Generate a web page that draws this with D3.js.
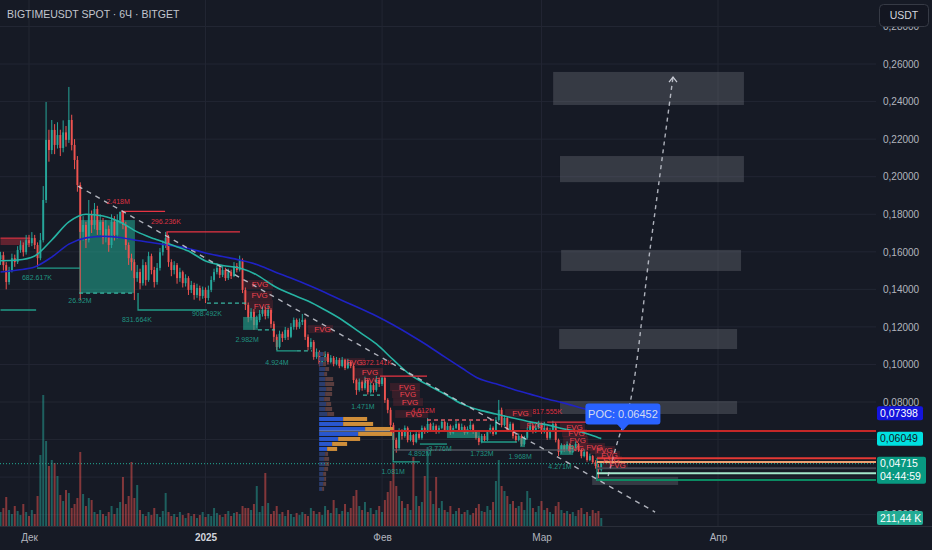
<!DOCTYPE html>
<html>
<head>
<meta charset="utf-8">
<script src="https://cdn.jsdelivr.net/npm/d3@7"></script>
<style>
html,body{margin:0;padding:0;background:#161a25;overflow:hidden}
svg{display:block;font-family:"Liberation Sans",Arial,sans-serif}
</style>
</head>
<body>
<svg id="chart" width="932" height="550"></svg>
<script>
// ---------- series ----------
const symbolTitle = "BIGTIMEUSDT SPOT · 6Ч · BITGET";
const firstBarUTC = [2024, 10, 26];      // first candle open (year, month0, day)
const barHours = 12;
const priceUnit = 1e-4;                   // OHLC values below are in 0.0001 USDT

const opens = [
1560,1582,1529,1439,1503,1566,1545,1610,1636,1598,
1662,1646,1673,1636,1566,1662,1876,2196,2142,2249,
2169,2222,2153,2236,2196,2302,2169,2089,1956,1706,
1743,1663,1796,1743,1828,1716,1759,1673,1722,1636,
1759,1690,1769,1812,1743,1636,1566,1545,1460,1492,
1433,1529,1450,1577,1503,1439,1514,1598,1636,1673,
1545,1503,1529,1460,1492,1433,1460,1397,1423,1370,
1407,1365,1397,1354,1397,1450,1492,1514,1477,1503,
1460,1492,1471,1524,1503,1556,1397,1317,1248,1280,
1210,1237,1269,1290,1258,1290,1216,1147,1093,1163,
1141,1184,1147,1200,1237,1200,1226,1237,1147,1093,
1120,1040,1067,1003,1024,1056,1013,1035,1003,1024,
992,1024,981,1013,992,917,864,906,874,917,
853,890,864,917,896,928,811,758,677,598,
555,640,619,662,598,624,587,630,609,662,
640,683,651,672,640,662,694,651,672,635,
662,683,651,667,635,656,678,640,609,587,
619,598,640,662,630,704,758,677,715,651,
683,619,598,619,576,609,651,672,640,662,
683,640,662,609,651,683,598,534,566,544,
576,534,555,576,544,512,534,491,512,480,
459,438];

const highs = [
1600,1600,1545,1520,1590,1585,1630,1660,1650,1690,
1690,1705,1690,1650,1700,1950,2398,2250,2302,2280,
2290,2250,2300,2270,2478,2330,2200,2110,1970,1790,
1760,1876,1820,1860,1845,1800,1780,1770,1740,1800,
1790,1800,1815,1812,1760,1650,1590,1560,1530,1510,
1560,1545,1600,1590,1520,1540,1620,1660,1706,1690,
1560,1550,1540,1515,1500,1480,1470,1445,1435,1430,
1420,1415,1410,1420,1470,1510,1540,1525,1525,1515,
1510,1505,1545,1540,1580,1565,1410,1330,1300,1295,
1260,1290,1310,1305,1315,1300,1230,1160,1180,1175,
1200,1195,1220,1250,1245,1245,1269,1245,1160,1140,
1130,1085,1075,1040,1070,1065,1050,1045,1040,1035,
1040,1030,1030,1020,1000,925,925,915,935,925,
905,900,938,930,935,935,820,770,690,610,
660,655,675,670,640,630,645,640,675,670,
715,690,690,680,675,705,700,690,680,675,
700,690,685,675,670,700,685,650,620,630,
630,650,680,670,720,811,770,730,722,695,
690,630,632,628,620,665,690,680,675,700,
690,694,670,662,700,690,605,580,575,590,
582,570,590,582,552,548,540,525,518,490,
470,480];

const lows = [
1530,1500,1400,1425,1490,1520,1535,1595,1575,1585,
1625,1630,1615,1520,1555,1650,1860,2080,2120,2120,
2150,2110,2130,2160,2180,2140,2040,1920,1343,1660,
1620,1650,1700,1720,1690,1690,1640,1650,1600,1620,
1660,1670,1750,1720,1610,1530,1500,1343,1440,1400,
1420,1420,1440,1480,1410,1425,1500,1580,1620,1520,
1470,1480,1430,1440,1410,1415,1370,1380,1345,1355,
1340,1350,1327,1340,1385,1440,1480,1460,1465,1445,
1450,1455,1465,1490,1495,1380,1290,1225,1235,1184,
1195,1225,1255,1240,1245,1195,1120,1077,1085,1120,
1130,1130,1140,1185,1185,1190,1210,1130,1075,1080,
1025,1030,990,995,1010,1000,1005,990,995,980,
985,970,975,980,900,838,855,860,865,840,
845,850,855,880,885,795,740,660,491,530,
545,600,610,585,590,570,580,600,600,630,
635,640,645,630,632,655,640,645,625,628,
655,640,645,625,628,650,630,600,570,580,
590,592,632,620,625,695,665,670,640,645,
605,585,590,565,570,600,645,632,635,655,
630,632,598,600,645,585,512,525,535,538,
525,528,548,535,500,505,482,485,470,445,
395,430];

const closes = [
1582,1529,1439,1503,1566,1545,1610,1636,1598,1662,
1646,1673,1636,1566,1662,1876,2196,2142,2249,2169,
2222,2153,2236,2196,2302,2169,2089,1956,1706,1743,
1663,1796,1743,1828,1716,1759,1673,1722,1636,1759,
1690,1769,1812,1743,1636,1566,1545,1460,1492,1433,
1529,1450,1577,1503,1439,1514,1598,1636,1673,1545,
1503,1529,1460,1492,1433,1460,1397,1423,1370,1407,
1365,1397,1354,1397,1450,1492,1514,1477,1503,1460,
1492,1471,1524,1503,1556,1397,1317,1248,1280,1210,
1237,1269,1290,1258,1290,1216,1147,1093,1163,1141,
1184,1147,1200,1237,1200,1226,1237,1147,1093,1120,
1040,1067,1003,1024,1056,1013,1035,1003,1024,992,
1024,981,1013,992,917,864,906,874,917,853,
890,864,917,896,928,811,758,677,598,555,
640,619,662,598,624,587,630,609,662,640,
683,651,672,640,662,694,651,672,635,662,
683,651,667,635,656,678,640,609,587,619,
598,640,662,630,704,758,677,715,651,683,
619,598,619,576,609,651,672,640,662,683,
640,662,609,651,683,598,534,566,544,576,
534,555,576,544,512,534,491,512,480,459,
438,471.5];

// volume per bar, thousands of BIGTIME
const volumesK = [
370,475,766,422,317,528,396,290,581,370,
264,422,317,792,1874,3458,2244,1584,1742,1663,
1320,818,660,950,871,475,581,739,1954,845,
528,739,686,370,317,422,317,264,370,528,
317,475,634,1294,581,792,1690,739,1082,422,
317,264,370,290,475,317,238,396,871,370,
264,317,238,370,290,211,343,264,317,211,
290,370,238,317,264,475,343,290,238,317,
396,264,343,370,317,528,475,475,422,581,
1056,370,528,1399,607,317,396,528,317,370,
264,422,317,238,343,290,370,317,264,475,
396,317,370,290,528,422,343,686,475,317,
396,581,370,475,792,950,528,422,634,370,
475,317,422,528,370,686,898,1188,1663,1056,
792,660,475,581,422,1822,792,528,634,1320,
2086,924,581,1294,475,660,422,370,528,317,
396,475,317,370,422,290,343,475,581,396,
370,528,422,634,1188,1742,1056,924,792,581,
660,475,528,634,422,924,739,475,370,528,
660,422,475,370,317,528,634,422,343,396,
317,370,264,422,475,317,370,264,422,343,
396,211.44];

// moving averages: [bar index, value in 0.0001]
const emaFast = [[0,1552],[6,1556],[12,1578],[18,1663],[24,1759],[30,1800],[36,1791],[42,1759],[48,1706],[54,1669],
[60,1637],[66,1604],[72,1551],[78,1527],[84,1514],[90,1477],[96,1418],[102,1375],[108,1338],[114,1290],
[120,1237],[126,1173],[132,1109],[138,1024],[144,944],[150,891],[156,843],[162,790],[168,758],[174,736],
[180,715],[186,694],[192,678],[198,656],[204,640],[210,610],[211,604.9]];
const emaSlow = [[0,1492],[6,1503],[12,1519],[18,1572],[24,1641],[30,1674],[36,1682],[42,1676],[48,1660],[54,1647],
[60,1633],[66,1618],[72,1594],[78,1575],[84,1556],[90,1532],[96,1495],[102,1460],[108,1423],[114,1383],
[120,1341],[126,1301],[132,1258],[138,1210],[144,1157],[150,1101],[156,1040],[162,981],[168,925],[174,897],
[180,868],[186,842],[192,816],[198,794],[204,768],[210,743],[211,739.8]];

// axes
const priceTicks = [0.02,0.04,0.06,0.08,0.10,0.12,0.14,0.16,0.18,0.20,0.22,0.24,0.26,0.28];
const monthTicks = [[2024,11,1],[2025,0,1],[2025,1,1],[2025,2,1],[2025,3,1]];
const monthNames = ["Янв","Фев","Мар","Апр","Май","Июн","Июл","Авг","Сен","Окт","Ноя","Дек"];
const countdown = "04:44:59";

// volume profile (rows from top, millions)
const profileTop = 0.1066, profileStep = 0.00266, profileStartBar = 111.9;
const profileUp   = [1,1.25,1,1.5,1.25,1.5,1.5,1.75,1.5,1.25,1.75,1.5,2,6,6,11.5,9.75,4.75,3.25,2,1.5,1.25,1.5,1.25,1,1.25,1,0.75];
const profileDown = [0.5,0.75,0.75,1,0.75,2,2.25,1.5,1.75,1.5,1.25,1.75,1.75,6,7.5,7,8.5,5.5,3.75,2.5,0.75,1.25,1,1,0.75,0.5,0.75,0.5];
const valueAreaRows = [13, 19];
const pocPrice = 0.06452, pocFromBar = 136.8, pocLabelBar = 218.6;

// drawings in (bar, price)
const trendLine = [[27.2,0.1950],[229.9,0.0214]];
const projection = [[213.4,0.0406],[216.9,0.0598],[221.1,0.0795],[228.1,0.1610],[236.2,0.2531]];
const targetZones = [
  [194.1,261.1,0.2558,0.2382],
  [196.5,261.1,0.2110,0.1971],
  [196.9,260.1,0.1610,0.1498],
  [196.2,258.7,0.1189,0.1082],
  [196.5,258.7,0.0805,0.0736],
  [207.8,238.0,0.0401,0.0358]
];
const fvgZones = [
  [85.2,95.7,0.1450,0.1402],[85.2,95.4,0.1391,0.1343],[86.6,95.7,0.1343,0.1274],
  [108.0,116.8,0.1210,0.1167],[119.2,128.0,0.1034,0.0992],[123.8,134.3,0.0981,0.0938],
  [124.5,135.0,0.0938,0.0896],[136.8,147.3,0.0901,0.0858],[137.5,147.3,0.0864,0.0821],
  [137.9,148.4,0.0821,0.0779],[138.6,150.2,0.0757,0.0715],[177.2,186.7,0.0763,0.0720],
  [182.5,191.3,0.0699,0.0656],[196.5,205.3,0.0688,0.0645],[197.2,206.0,0.0656,0.0614],
  [197.6,206.4,0.0619,0.0576],[196.9,205.7,0.0576,0.0534],[203.5,212.3,0.0582,0.0539],
  [207.1,215.8,0.0566,0.0523],[208.8,217.6,0.0539,0.0497],[209.5,218.3,0.0512,0.0470],
  [211.6,220.4,0.0486,0.0443]
];
const demandZone = [27.6,47.2,0.1769,0.1380];
const demandBoxes = [[85.2,90.4,0.1253,0.1184],[156.8,168.4,0.0640,0.0608],[182.5,184.2,0.0608,0.0560],[196.5,201.1,0.0571,0.0518]];
const demandLines = [
  [[0,0.1290],[12.5,0.1290]],
  [[12.8,0.1513],[27.9,0.1513]],
  [[48.3,0.1380],[48.3,0.1290],[72.5,0.1290]],
  [[97.1,0.1130],[97.1,0.1072],[104.1,0.1072]],
  [[137.9,0.0635],[137.9,0.0481],[147.3,0.0481]],
  [[147.3,0.0576],[156.8,0.0576]],
  [[169.1,0.0587],[181.4,0.0587]],
  [[209.5,0.0502],[209.5,0.0379]]
];
const demandDashed = [
  [[27.6,0.1380],[47.2,0.1380]],
  [[72.5,0.1327],[86.6,0.1327]],
  [[90.4,0.1184],[96.4,0.1184]],
  [[104.1,0.1072],[109.4,0.1072]],
  [[127.3,0.0837],[133.3,0.0837]]
];
const supplyBoxes = [[0,10.4,0.1673,0.1636]];
const supplyLines = [
  [[42.7,0.1759],[42.7,0.1815],[57.8,0.1815]],
  [[58.5,0.1609],[58.5,0.1706],[84.1,0.1706]],
  [[133.3,0.0938],[149.8,0.0938]],
  [[192,0.0693],[206,0.0693]]
];
const supplyDashed = [[[149.8,0.0704],[174.4,0.0704]]];
const neutralLines = [[[137.9,0.0544],[202.5,0.0544]]];
const rightLevelsFrom = 209.5;
const rightLevels = [0.0500, 0.0480, 0.0447, 0.0421, 0.0385];
const buyLabels = [
  ["682.617K",12.8,0.1462],["26.92M",27.9,0.1343],["831.664K",47.9,0.1237],["908.492K",72.5,0.1269],
  ["2.982M",86.6,0.1130],["4.924M",97.1,0.1008],["1.471M",127.3,0.0774],["4.892M",147.3,0.0523],
  ["3.776M",154.4,0.0550],["1.732M",169.1,0.0523],["1.968M",182.5,0.0507],["4.271M",196.5,0.0454],
  ["1.081M",137.9,0.0432]
];
const sellLabels = [
  ["2.418M",41.3,0.1865],["296.236K",58.1,0.1759],["372.141K",132.2,0.1008],["4.612M",148.4,0.0757],["817.555K",192.0,0.0747]
];

// ---------- layout ----------
const W = 932, H = 550, plotW = 876, plotH = 526;
const UP = "#26a69a", DOWN = "#ef5350";
const t0 = Date.UTC(...firstBarUTC);
const barTime = b => new Date(t0 + b * barHours * 3600e3);
const x = d3.scaleUtc()
  .domain([new Date(Date.UTC(2024, 11, 1)), new Date(Date.UTC(2025, 3, 1))])
  .range([29, 718]);
const X = b => x(barTime(b));
const y = d3.scaleLinear().domain([0.02, 0.28]).range([514.65, 26.5]);
const P = v => v * priceUnit;
const vy = d3.scaleLinear().domain([0, d3.max(volumesK)]).range([plotH, 395]);
const commaLocale = d3.formatLocale({decimal: ",", thousands: " ", grouping: [3], currency: ["", ""]});
const fmtPrice = commaLocale.format(".5f");
const fmtVol = commaLocale.format(".2f");

const svg = d3.select("#chart");
svg.append("rect").attr("width", W).attr("height", H).attr("fill", "#161a25");
svg.append("defs").append("clipPath").attr("id", "plot")
  .append("rect").attr("width", plotW).attr("height", plotH);

// grid
const grid = svg.append("g").attr("clip-path", "url(#plot)");
grid.selectAll("line.h").data(priceTicks).join("line").attr("class", "h")
  .attr("x1", 0).attr("x2", plotW).attr("y1", d => y(d)).attr("y2", d => y(d))
  .attr("stroke", "#222633").attr("stroke-width", 1);
const monthDates = monthTicks.map(d => new Date(Date.UTC(...d)));
grid.selectAll("line.v").data(monthDates).join("line").attr("class", "v")
  .attr("x1", d => x(d)).attr("x2", d => x(d)).attr("y1", 0).attr("y2", plotH)
  .attr("stroke", "#222633").attr("stroke-width", 1);

const plot = svg.append("g").attr("clip-path", "url(#plot)");
const bars = d3.range(Math.min(opens.length, highs.length, lows.length, closes.length));
const isUp = i => closes[i] >= opens[i];

// volume
plot.append("g").selectAll("rect").data(bars).join("rect")
  .attr("x", i => X(i) - 1).attr("width", 2)
  .attr("y", i => vy(volumesK[i])).attr("height", i => plotH - vy(volumesK[i]))
  .attr("fill", i => isUp(i) ? UP : DOWN).attr("fill-opacity", 0.5);

// zones drawn behind the candles
const boxRect = (g, data, fill, op) => g.selectAll(null).data(data).join("rect")
  .attr("x", d => X(d[0])).attr("width", d => X(d[1]) - X(d[0]))
  .attr("y", d => y(d[2])).attr("height", d => y(d[3]) - y(d[2]))
  .attr("fill", fill).attr("fill-opacity", op);
const zonesG = plot.append("g");
boxRect(zonesG, targetZones, "#787b86", 0.33);
boxRect(zonesG, [demandZone], "#22ab94", 0.55);
boxRect(zonesG, fvgZones, "#f23645", 0.15);
boxRect(zonesG, supplyBoxes, "#f23645", 0.35);
zonesG.selectAll(null).data(supplyBoxes).join("line")
  .attr("x1", d => X(d[0])).attr("x2", d => X(d[1])).attr("y1", d => y(d[2])).attr("y2", d => y(d[2]))
  .attr("stroke", "#f23645").attr("stroke-width", 1);

// candles
const candleG = plot.append("g");
candleG.selectAll("line").data(bars).join("line")
  .attr("x1", i => X(i)).attr("x2", i => X(i))
  .attr("y1", i => y(P(highs[i]))).attr("y2", i => y(P(lows[i])))
  .attr("stroke", i => isUp(i) ? UP : DOWN).attr("stroke-width", 1);
candleG.selectAll("rect").data(bars).join("rect")
  .attr("x", i => X(i) - 0.95).attr("width", 1.9)
  .attr("y", i => y(P(Math.max(opens[i], closes[i]))))
  .attr("height", i => Math.max(0.8, Math.abs(y(P(opens[i])) - y(P(closes[i])))))
  .attr("fill", i => isUp(i) ? UP : DOWN);

// moving averages
const maLine = d3.line().x(d => X(d[0])).y(d => y(P(d[1]))).curve(d3.curveMonotoneX);
plot.append("path").attr("d", maLine(emaSlow)).attr("fill", "none").attr("stroke", "#1f22c4").attr("stroke-width", 1.6);
plot.append("path").attr("d", maLine(emaFast)).attr("fill", "none").attr("stroke", "#26b3a3").attr("stroke-width", 1.6);

// volume profile
const profG = plot.append("g");
const rowTotals = profileUp.map((v, k) => v + profileDown[k]);
const pw = d3.scaleLinear().domain([0, d3.max(rowTotals)]).range([0, 74]);
const px0 = X(profileStartBar);
const inVA = k => k >= valueAreaRows[0] && k <= valueAreaRows[1];
profileUp.forEach((v, k) => {
  const top = y(profileTop - k * profileStep), bot = y(profileTop - (k + 1) * profileStep);
  const h = Math.max(1, bot - top - 1);
  profG.append("rect").attr("x", px0).attr("y", top).attr("width", pw(v)).attr("height", h)
    .attr("fill", inVA(k) ? "#2a5bd7" : "#2c3f72").attr("fill-opacity", 0.95);
  profG.append("rect").attr("x", px0 + pw(v)).attr("y", top).attr("width", pw(profileDown[k])).attr("height", h)
    .attr("fill", inVA(k) ? "#d9953b" : "#5e4040").attr("fill-opacity", 0.95);
});
profG.append("line").attr("x1", px0).attr("x2", X(pocFromBar)).attr("y1", y(pocPrice)).attr("y2", y(pocPrice))
  .attr("stroke", "#aab0c0").attr("stroke-width", 1).attr("stroke-opacity", 0.7);

// line drawings
const poly = d3.line().x(d => X(d[0])).y(d => y(d[1]));
const drawLines = (data, color, width, dash, op) => plot.append("g").selectAll("path").data(data).join("path")
  .attr("d", poly).attr("fill", "none").attr("stroke", color).attr("stroke-width", width)
  .attr("stroke-dasharray", dash).attr("stroke-opacity", op);
boxRect(plot.append("g"), demandBoxes, "#22ab94", 0.6);
drawLines(demandLines, "#22ab94", 1.3, null, 0.9);
drawLines(demandDashed, "#3cc7b0", 1.3, "4,3", 0.9);
drawLines(supplyLines, "#f23645", 1.3, null, 0.95);
drawLines(supplyDashed, "#f0636b", 1.3, "4,3", 0.9);
drawLines(neutralLines, "#5d606b", 2, null, 0.6);

// POC line and stacked levels on the right
plot.append("line").attr("x1", X(pocFromBar)).attr("x2", plotW).attr("y1", y(pocPrice)).attr("y2", y(pocPrice))
  .attr("stroke", "#c62828").attr("stroke-width", 2);
const levelColors = ["#e53935", "#f0a070", "#434651", "#a5e8cc", "#0b8a62"];
plot.append("g").selectAll("line").data(rightLevels).join("line")
  .attr("x1", X(rightLevelsFrom)).attr("x2", plotW).attr("y1", d => y(d)).attr("y2", d => y(d))
  .attr("stroke", (d, k) => levelColors[k]).attr("stroke-width", 2);

// current price dotted line
const lastClose = P(closes[closes.length - 1]);
plot.append("line").attr("x1", 0).attr("x2", plotW).attr("y1", y(lastClose)).attr("y2", y(lastClose))
  .attr("stroke", "#22ab94").attr("stroke-width", 1).attr("stroke-dasharray", "1,2");

// trend line and projection
drawLines([trendLine], "#d8dbe3", 1.4, "5,5", 0.8);
const projPath = d3.line().x(d => X(d[0])).y(d => y(d[1])).curve(d3.curveCatmullRom);
plot.append("path").attr("d", projPath(projection)).attr("fill", "none")
  .attr("stroke", "#c9ccd6").attr("stroke-width", 1.4).attr("stroke-dasharray", "4,4").attr("stroke-opacity", 0.85);
const tip = projection[projection.length - 1];
const tx = X(tip[0]), ty = y(tip[1]);
plot.append("path").attr("d", `M${tx - 4},${ty + 5} L${tx},${ty} L${tx + 4},${ty + 5}`)
  .attr("fill", "none").attr("stroke", "#c9ccd6").attr("stroke-width", 1.2);

// labels
const textG = plot.append("g").attr("font-size", 7);
textG.selectAll("text.fvg").data(fvgZones).join("text").attr("class", "fvg")
  .attr("x", d => (X(d[0]) + X(d[1])) / 2 + 2).attr("y", d => (y(d[2]) + y(d[3])) / 2)
  .attr("dy", "0.35em").attr("text-anchor", "middle").attr("font-size", 8)
  .attr("fill", "#f0424f").text("FVG");
textG.selectAll("text.buy").data(buyLabels).join("text").attr("class", "buy")
  .attr("x", d => X(d[1])).attr("y", d => y(d[2])).attr("dy", "0.35em").attr("text-anchor", "middle")
  .attr("fill", "#22ab94").attr("fill-opacity", 0.85).text(d => d[0]);
textG.selectAll("text.sell").data(sellLabels).join("text").attr("class", "sell")
  .attr("x", d => X(d[1])).attr("y", d => y(d[2])).attr("dy", "0.35em").attr("text-anchor", "middle")
  .attr("fill", "#f23645").attr("fill-opacity", 0.9).text(d => d[0]);

// POC callout
const pcx = X(pocLabelBar), pcy = y(pocPrice);
const poc = svg.append("g");
poc.append("rect").attr("x", pcx - 37.5).attr("y", pcy - 27.5).attr("width", 75).attr("height", 21).attr("rx", 3)
  .attr("fill", "#2962ff");
poc.append("path").attr("d", `M${pcx - 6},${pcy - 7} L${pcx},${pcy - 0.5} L${pcx + 6},${pcy - 7} Z`).attr("fill", "#2962ff");
poc.append("text").attr("x", pcx).attr("y", pcy - 17).attr("dy", "0.35em").attr("text-anchor", "middle")
  .attr("font-size", 11).attr("fill", "#d3daf0").text("POC: " + pocPrice.toFixed(5));

// ---------- axes ----------
svg.append("line").attr("x1", 0).attr("x2", W).attr("y1", plotH + 0.5).attr("y2", plotH + 0.5).attr("stroke", "#2a2e39");

const lastSlow = P(emaSlow[emaSlow.length - 1][1]);
const lastFast = P(emaFast[emaFast.length - 1][1]);
const lastVol = volumesK[volumesK.length - 1];
// price-scale labels are hidden where a value badge sits on top of them
const badgeBands = [[y(lastFast) - 7, y(lastFast) + 7], [y(lastClose) - 7, y(lastClose) + 20]];
const covered = v => badgeBands.some(([a, b]) => y(v) > a - 3 && y(v) < b + 3);

const yAxis = svg.append("g").attr("transform", `translate(${plotW},0)`)
  .call(d3.axisRight(y).tickValues(priceTicks.filter(v => !covered(v))).tickSize(0).tickPadding(7).tickFormat(fmtPrice));
yAxis.select(".domain").remove();
yAxis.selectAll("text").attr("fill", "#b2b5be").attr("font-size", 10).attr("font-family", "Liberation Sans, Arial, sans-serif");

const xAxis = svg.append("g").attr("transform", `translate(0,${plotH})`)
  .call(d3.axisBottom(x).tickValues(monthDates).tickSize(0).tickPadding(8)
    .tickFormat(d => d.getUTCMonth() === 0 ? String(d.getUTCFullYear()) : monthNames[d.getUTCMonth()]));
xAxis.select(".domain").remove();
xAxis.selectAll("text").attr("fill", d => d.getUTCMonth() === 0 ? "#d1d4dc" : "#b2b5be")
  .attr("font-weight", d => d.getUTCMonth() === 0 ? "bold" : "normal")
  .attr("font-size", 10).attr("font-family", "Liberation Sans, Arial, sans-serif");

// price-scale badges
function badge(cy, lines, fill, color, w) {
  const h = 13 * lines.length + 1;
  const g = svg.append("g");
  g.append("rect").attr("x", 877).attr("y", cy - 7).attr("width", w).attr("height", h).attr("rx", 2).attr("fill", fill);
  lines.forEach((t, k) => g.append("text").attr("x", 880).attr("y", cy + 13 * k).attr("dy", "0.35em")
    .attr("font-size", 10.5).attr("fill", color).text(t));
}
badge(y(lastSlow), [fmtPrice(lastSlow)], "#1414dc", "#ffffff", 46);
badge(y(lastFast), [fmtPrice(lastFast)], "#00e0e0", "#131722", 46);
badge(y(lastClose), [fmtPrice(lastClose), countdown], "#089981", "#ffffff", 49);
badge(vy(lastVol), [fmtVol(lastVol) + " K"], "#22ab94", "#ffffff", 46);

// currency button
svg.append("rect").attr("x", 879.5).attr("y", 4.5).attr("width", 49).attr("height", 22).attr("rx", 4)
  .attr("fill", "#131621").attr("stroke", "#363a45");
svg.append("text").attr("x", 904).attr("y", 15.5).attr("dy", "0.35em").attr("text-anchor", "middle")
  .attr("font-size", 10.5).attr("fill", "#d1d4dc").text("USDT");

// title
svg.append("text").attr("x", 7).attr("y", 18).attr("font-size", 10.5).attr("fill", "#c3c6ce")
  .text(symbolTitle);
</script>
</body>
</html>
